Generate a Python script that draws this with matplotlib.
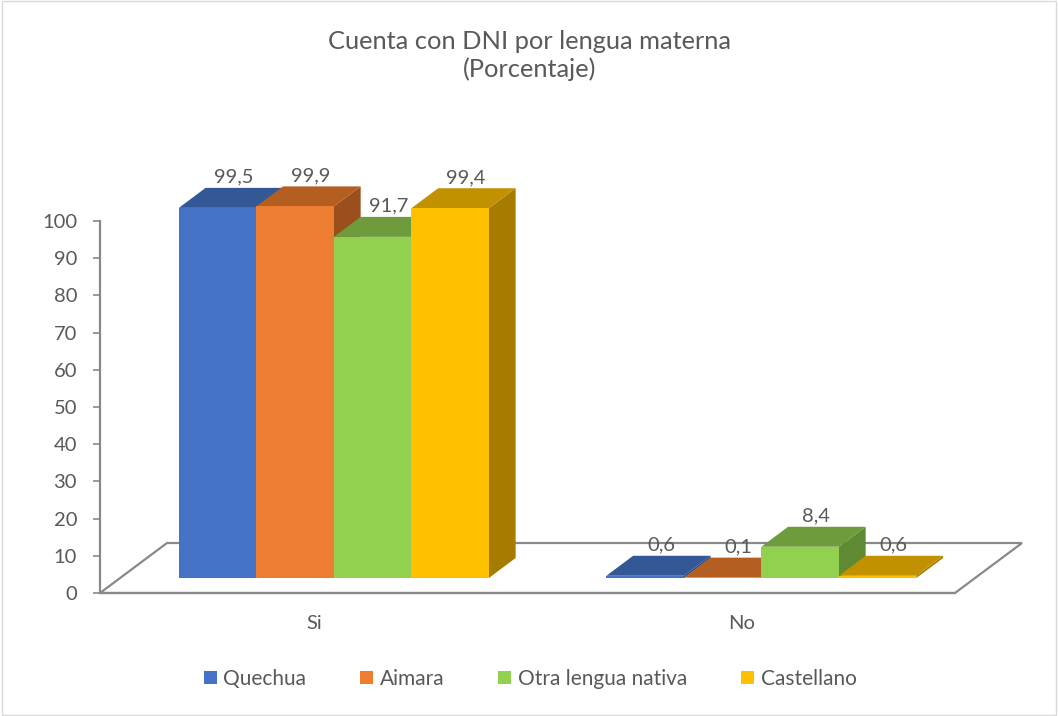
import numpy as np
import matplotlib
matplotlib.use('Agg')
import matplotlib.pyplot as plt
from matplotlib.patches import Polygon, Patch, Rectangle

# datos
categorias = ['Si', 'No']
series = ['Quechua', 'Aimara', 'Otra lengua nativa', 'Castellano']
quechua = [99.5, 0.6]
aimara = [99.9, 0.1]
otra = [91.7, 8.4]
castellano = [99.4, 0.6]
valores = [quechua, aimara, otra, castellano]

# colores: frente, arriba, lado
c_frente = ['#4472C4', '#ED7D31', '#92D050', '#FFC000']
c_arriba = ['#325896', '#B55E22', '#6E9C3C', '#C29100']
c_lado = ['#2B4C85', '#9A4F1D', '#5E8A33', '#A67C00']

plt.rcParams['font.family'] = ['Lato', 'DejaVu Sans']
gris_txt = '#595959'
gris_lin = '#898989'

fig = plt.figure(figsize=(10.58, 7.16), dpi=100)
fig.patches.append(Rectangle((0.002, 0.002), 0.996, 0.996, transform=fig.transFigure,
                             fill=False, edgecolor='#D9D9D9', lw=1))

# ejes: izquierda en x=100px, frente del piso en y=593px
ax = fig.add_axes([100 / 1058, 123 / 716, 855 / 1058, 446.4 / 716])
ax.set_xlim(-0.5, 1.5)
ax.set_ylim(0, 120)

# profundidad del piso (en unidades de datos)
ddx = 67 / 427.5
ddy = 50 / 3.72
w = 77.5 / 427.5
f0, f1 = 0.3, 0.7

# piso
piso = Polygon([(-0.5, 0), (1.5, 0), (1.5 + ddx, ddy), (-0.5 + ddx, ddy)], closed=True,
               facecolor='none', edgecolor=gris_lin, lw=1.6, clip_on=False, zorder=1)
ax.add_patch(piso)

for i in range(len(categorias)):
    for j in range(len(series)):
        v = valores[j][i]
        xl = i - 2 * w + j * w + f0 * ddx
        yb = f0 * ddy
        dx = (f1 - f0) * ddx
        dy = (f1 - f0) * ddy
        lado = Polygon([(xl + w, yb), (xl + w + dx, yb + dy), (xl + w + dx, yb + dy + v), (xl + w, yb + v)],
                       closed=True, facecolor=c_lado[j], edgecolor='none', clip_on=False, zorder=3)
        arriba = Polygon([(xl, yb + v), (xl + w, yb + v), (xl + w + dx, yb + dy + v), (xl + dx, yb + dy + v)],
                         closed=True, facecolor=c_arriba[j], edgecolor='none', clip_on=False, zorder=3)
        frente = Rectangle((xl, yb), w, v, facecolor=c_frente[j], edgecolor='none', clip_on=False, zorder=3)
        ax.add_patch(lado)
        ax.add_patch(arriba)
        ax.add_patch(frente)
        ax.annotate(f'{v:.1f}'.replace('.', ','), (xl + w / 2 + 0.6 * dx, yb + dy + v),
                    xytext=(0, 1.5), textcoords='offset points', ha='center', va='bottom',
                    fontsize=14.5, color=gris_txt, zorder=5, annotation_clip=False)

# ejes y etiquetas
for s in ['top', 'right']:
    ax.spines[s].set_visible(False)
ax.spines['left'].set_bounds(0, 100)
ax.spines['left'].set_color(gris_lin)
ax.spines['left'].set_linewidth(1.6)
ax.spines['bottom'].set_color(gris_lin)
ax.spines['bottom'].set_linewidth(1.6)
ax.set_yticks(np.arange(0, 101, 10))
ax.tick_params(axis='y', length=5, width=1.2, color=gris_lin, labelcolor=gris_txt, labelsize=14.5, pad=11.5)
ax.set_xticks(range(len(categorias)))
ax.set_xticklabels(categorias)
ax.tick_params(axis='x', length=0, labelcolor=gris_txt, labelsize=14.5, pad=16)
ax.patch.set_visible(False)

# titulo
fig.text(530 / 1058, 1 - 49 / 716, 'Cuenta con DNI por lengua materna', ha='center', va='baseline',
         fontsize=18.3, color=gris_txt)
fig.text(530 / 1058, 1 - 77 / 716, '(Porcentaje)', ha='center', va='baseline',
         fontsize=18.3, color=gris_txt)

# leyenda
handles = [Patch(facecolor=c, edgecolor='none') for c in c_frente]
fig.legend(handles, series, loc='center', bbox_to_anchor=(530 / 1058, 1 - 679 / 716), ncol=4,
           frameon=False, fontsize=15, handlelength=0.63, handleheight=0.63, handletextpad=0.3,
           columnspacing=2.6, labelcolor=gris_txt)

plt.savefig('out.png', dpi=100)
